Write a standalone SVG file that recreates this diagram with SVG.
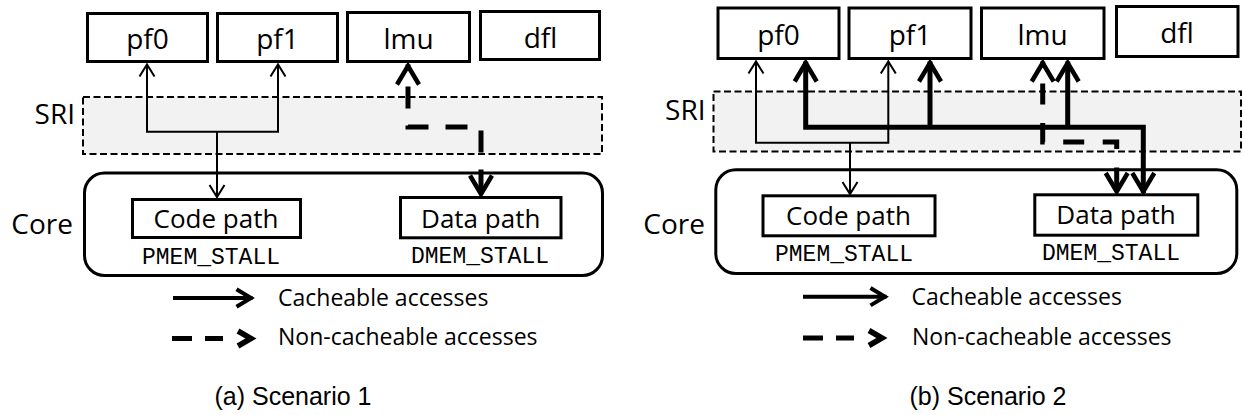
<svg xmlns="http://www.w3.org/2000/svg" width="1243" height="415" viewBox="0 0 1243 415">
  <style>
    .box { fill: #fff; stroke: #000; stroke-width: 3; }
    .core { fill: #fff; stroke: #000; stroke-width: 3; }
    .sri { fill: #f2f2f2; stroke: #000; stroke-width: 2; stroke-dasharray: 7 3.5; }
    .lbl { font-family: "Open Sans", "Noto Sans", sans-serif; fill: #000; }
    .big { font-size: 28px; }
    .mid { font-size: 26px; }
    .leg { font-size: 23px; }
    .mono { font-family: "Liberation Mono", "Courier New", monospace; font-size: 23px; fill: #000; }
    .cap { font-family: "Liberation Sans", Arial, sans-serif; font-size: 25px; fill: #000; }
    .thin { fill: none; stroke: #000; stroke-width: 2; marker-end: url(#headThin); }
    .thick { fill: none; stroke: #000; stroke-width: 5; stroke-linejoin: miter; }
    .dash { fill: none; stroke: #000; stroke-width: 5; stroke-linecap: butt; }
    .mid-c { text-anchor: middle; }
    .end-c { text-anchor: end; }
  </style>
  <defs>
    <marker id="headThin" viewBox="-16 -10 20 20" markerWidth="20" markerHeight="20" refX="0" refY="0" orient="auto" markerUnits="userSpaceOnUse" overflow="visible">
      <polyline points="-12,-7.5 0,0 -12,7.5" fill="none" stroke="#000" stroke-width="2"/>
    </marker>
    <marker id="headThick" viewBox="-24 -14 28 28" markerWidth="28" markerHeight="28" refX="0" refY="0" orient="auto-start-reverse" markerUnits="userSpaceOnUse" overflow="visible">
      <polyline points="-20,-11 -1.5,0 -20,11" fill="none" stroke="#000" stroke-width="4.5"/>
    </marker>
    <marker id="headLegend" viewBox="-20 -12 24 24" markerWidth="24" markerHeight="24" refX="0" refY="0" orient="auto" markerUnits="userSpaceOnUse" overflow="visible">
      <polyline points="-16,-8.7 -1.5,0 -16,8.7" fill="none" stroke="#000" stroke-width="4"/>
    </marker>
  </defs>

  <!-- ===== Scenario 1 ===== -->
  <g id="a-sri">
    <rect class="sri" x="83" y="97" width="519" height="57"/>
    <text class="lbl big end-c" x="75" y="124">SRI</text>
  </g>
  <g id="a-pf0">
    <rect class="box" x="87.5" y="13.5" width="120" height="48"/>
    <text class="lbl big mid-c" x="147.5" y="49">pf0</text>
  </g>
  <g id="a-pf1">
    <rect class="box" x="217.5" y="13.5" width="120" height="48"/>
    <text class="lbl big mid-c" x="277.5" y="49">pf1</text>
  </g>
  <g id="a-lmu">
    <rect class="box" x="347.5" y="12.5" width="122" height="49"/>
    <text class="lbl big mid-c" x="408.5" y="49">lmu</text>
  </g>
  <g id="a-dfl">
    <rect class="box" x="480.5" y="11.5" width="119" height="48"/>
    <text class="lbl big mid-c" x="540.5" y="48">dfl</text>
  </g>
  <g id="a-core">
    <rect class="core" x="84.5" y="173" width="518" height="102.5" rx="20"/>
    <text class="lbl big end-c" x="73" y="234">Core</text>
  </g>
  <g id="a-code">
    <rect class="box" x="132.5" y="199.5" width="168" height="38"/>
    <text class="lbl mid mid-c" x="216" y="228">Code path</text>
    <text class="mono mid-c" x="211" y="264">PMEM_STALL</text>
  </g>
  <g id="a-data">
    <rect class="box" x="400.5" y="197.5" width="160.5" height="40.3"/>
    <text class="lbl mid mid-c" x="480.7" y="228.3">Data path</text>
    <text class="mono mid-c" x="480" y="263">DMEM_STALL</text>
  </g>
  <g id="a-connectors">
    <path class="thin" d="M217,131.7 H147 V64.5"/>
    <path class="thin" d="M217,131.7 H278 V64.5"/>
    <path class="thin" d="M217,131.7 V197"/>
    <path class="dash" d="M408,64.5 V127 H481 V195.5" stroke-dasharray="22 17" stroke-dashoffset="17" marker-start="url(#headThick)" marker-end="url(#headThick)"/>
  </g>
  <g id="a-legend">
    <path d="M173,298 H252.5" fill="none" stroke="#000" stroke-width="4" marker-end="url(#headLegend)"/>
    <text class="lbl leg" x="278" y="306">Cacheable accesses</text>
    <path d="M172,338.5 H223" fill="none" stroke="#000" stroke-width="5" stroke-dasharray="20 13"/>
    <polyline points="238,331 251,338.5 238,346" fill="none" stroke="#000" stroke-width="5.5"/>
    <text class="lbl leg" x="278" y="345">Non-cacheable accesses</text>
  </g>
  <text class="cap mid-c" x="293" y="405">(a) Scenario 1</text>

  <!-- ===== Scenario 2 ===== -->
  <g id="b-sri">
    <rect class="sri" x="713.5" y="91.5" width="527.5" height="60"/>
    <text class="lbl big end-c" x="705.5" y="120">SRI</text>
  </g>
  <g id="b-pf0">
    <rect class="box" x="718" y="8" width="121" height="50.5"/>
    <text class="lbl big mid-c" x="778.5" y="45">pf0</text>
  </g>
  <g id="b-pf1">
    <rect class="box" x="849" y="8" width="122" height="50.5"/>
    <text class="lbl big mid-c" x="910" y="45">pf1</text>
  </g>
  <g id="b-lmu">
    <rect class="box" x="981.5" y="8" width="122.5" height="50.5"/>
    <text class="lbl big mid-c" x="1042.5" y="45">lmu</text>
  </g>
  <g id="b-dfl">
    <rect class="box" x="1116.5" y="6.5" width="121.5" height="50"/>
    <text class="lbl big mid-c" x="1177" y="43">dfl</text>
  </g>
  <g id="b-core">
    <rect class="core" x="715.8" y="169.8" width="521" height="103.7" rx="20"/>
    <text class="lbl big end-c" x="705" y="234">Core</text>
  </g>
  <g id="b-code">
    <rect class="box" x="763" y="195.8" width="172" height="40"/>
    <text class="lbl mid mid-c" x="848.5" y="225">Code path</text>
    <text class="mono mid-c" x="844" y="261">PMEM_STALL</text>
  </g>
  <g id="b-data">
    <rect class="box" x="1034.8" y="194.8" width="163" height="40.4"/>
    <text class="lbl mid mid-c" x="1116" y="224.3">Data path</text>
    <text class="mono mid-c" x="1111" y="260">DMEM_STALL</text>
  </g>
  <g id="b-connectors">
    <path class="thin" d="M850,142.7 H756 V61.5"/>
    <path class="thin" d="M850,142.7 H888.3 V61.5"/>
    <path class="thin" d="M850,142.7 V194"/>
    <path class="thick" d="M805.7,61.5 V127.3 H1143.3 V193" marker-start="url(#headThick)" marker-end="url(#headThick)"/>
    <path class="thick" d="M930,127.3 V61.5" marker-end="url(#headThick)"/>
    <path class="thick" d="M1067.7,127.3 V61.5" marker-end="url(#headThick)"/>
    <path class="dash" d="M1042.7,61.5 V142 H1116.7 V193" stroke-dasharray="21 18.5" stroke-dashoffset="17.5" marker-start="url(#headThick)" marker-end="url(#headThick)"/>
  </g>
  <g id="b-legend">
    <path d="M803,296.7 H886.5" fill="none" stroke="#000" stroke-width="4" marker-end="url(#headLegend)"/>
    <text class="lbl leg" x="911.5" y="305">Cacheable accesses</text>
    <path d="M803,338 H854" fill="none" stroke="#000" stroke-width="5" stroke-dasharray="20 13"/>
    <polyline points="869,330.5 882,338 869,345.5" fill="none" stroke="#000" stroke-width="5.5"/>
    <text class="lbl leg" x="912" y="345">Non-cacheable accesses</text>
  </g>
  <text class="cap mid-c" x="988" y="405">(b) Scenario 2</text>
</svg>
